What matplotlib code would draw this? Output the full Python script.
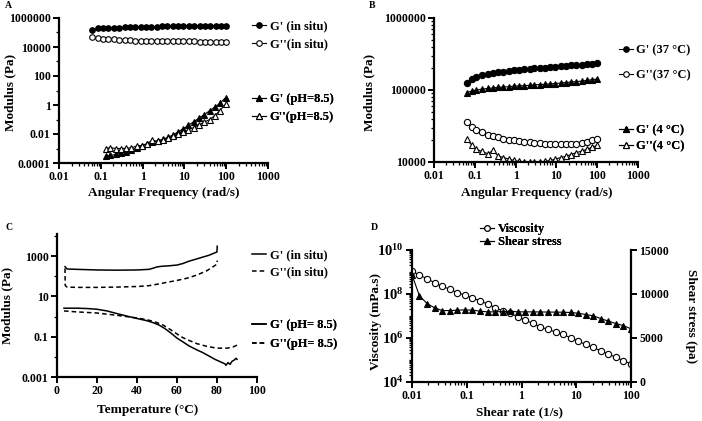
import numpy as np
import matplotlib.pyplot as plt
from matplotlib import ticker
from matplotlib.lines import Line2D

plt.rcParams['font.family'] = ['Liberation Serif', 'DejaVu Serif']
plt.rcParams['font.weight'] = 'bold'
plt.rcParams['axes.labelweight'] = 'bold'
plt.rcParams['mathtext.fontset'] = 'custom'
plt.rcParams['mathtext.rm'] = 'Liberation Serif:bold'
plt.rcParams['mathtext.bf'] = 'Liberation Serif:bold'
plt.rcParams['mathtext.it'] = 'Liberation Serif:bold:italic'

# ---- data ----
# A / B : frequency sweeps
freq = [0.063, 0.085, 0.11, 0.15, 0.21, 0.28, 0.37, 0.50, 0.67, 0.90, 1.2, 1.6, 2.2,
        2.9, 3.9, 5.3, 7.1, 9.5, 12.8, 17, 23, 31, 42, 56, 75, 100]
a_gp_situ = [1.6e5, 1.9e5, 2.0e5, 2.1e5, 2.15e5, 2.2e5, 2.25e5, 2.3e5, 2.35e5, 2.4e5,
             2.45e5, 2.5e5, 2.55e5, 2.6e5, 2.6e5, 2.65e5, 2.7e5, 2.75e5, 2.8e5, 2.8e5,
             2.85e5, 2.9e5, 2.9e5, 2.95e5, 3.0e5, 3.0e5]
a_gpp_situ = [5.0e4, 4.2e4, 3.8e4, 3.5e4, 3.3e4, 3.1e4, 3.0e4, 2.9e4, 2.8e4, 2.75e4,
              2.7e4, 2.65e4, 2.6e4, 2.55e4, 2.5e4, 2.5e4, 2.45e4, 2.4e4, 2.4e4, 2.4e4,
              2.35e4, 2.35e4, 2.3e4, 2.3e4, 2.3e4, 2.3e4]
freq_ph = [0.13, 0.17, 0.23, 0.31, 0.41, 0.54, 0.72, 0.96, 1.28, 1.7, 2.3, 3.0, 4.0,
           5.3, 7.1, 9.4, 12.5, 16.7, 22, 30, 40, 53, 70, 97]
a_gp_ph = [2.9e-4, 3.3e-4, 3.9e-4, 4.8e-4, 6.0e-4, 8.0e-4, 1.1e-3, 1.6e-3, 2.0e-3, 2.6e-3,
           3.3e-3, 4.3e-3, 5.8e-3, 8.5e-3, 0.014, 0.023, 0.040, 0.070, 0.12, 0.22,
           0.40, 0.70, 1.3, 3.2]
a_gpp_ph = [1.0e-3, 1.15e-3, 1.0e-3, 1.0e-3, 1.05e-3, 1.1e-3, 1.5e-3, 1.6e-3, 2.2e-3, 3.6e-3,
            3.2e-3, 4.0e-3, 5.0e-3, 7.0e-3, 9.5e-3, 0.013, 0.019, 0.028, 0.042, 0.065,
            0.10, 0.18, 0.40, 1.15]

b_gp_37 = [1.25e5, 1.42e5, 1.52e5, 1.6e5, 1.66e5, 1.72e5, 1.76e5, 1.8e5, 1.84e5, 1.87e5,
           1.9e5, 1.93e5, 1.96e5, 1.99e5, 2.02e5, 2.05e5, 2.08e5, 2.1e5, 2.13e5, 2.16e5,
           2.19e5, 2.22e5, 2.25e5, 2.28e5, 2.32e5, 2.36e5]
b_gpp_37 = [3.6e4, 3.03e4, 2.81e4, 2.61e4, 2.4e4, 2.27e4, 2.2e4, 2.11e4, 2.04e4, 2.0e4,
            1.96e4, 1.92e4, 1.87e4, 1.84e4, 1.82e4, 1.8e4, 1.78e4, 1.76e4, 1.76e4, 1.76e4,
            1.78e4, 1.8e4, 1.84e4, 1.92e4, 2.0e4, 2.08e4]
b_gp_4 = [9.2e4, 9.7e4, 1.0e5, 1.03e5, 1.05e5, 1.07e5, 1.09e5, 1.1e5, 1.11e5, 1.13e5,
          1.14e5, 1.15e5, 1.16e5, 1.18e5, 1.19e5, 1.2e5, 1.22e5, 1.23e5, 1.25e5, 1.27e5,
          1.29e5, 1.31e5, 1.33e5, 1.36e5, 1.39e5, 1.42e5]
b_gpp_4 = [2.1e4, 1.7e4, 1.5e4, 1.4e4, 1.3e4, 1.45e4, 1.22e4, 1.15e4, 1.1e4, 1.05e4,
           1.02e4, 1.0e4, 1.0e4, 1.0e4, 1.01e4, 1.02e4, 1.05e4, 1.1e4, 1.15e4, 1.2e4,
           1.27e4, 1.35e4, 1.42e4, 1.5e4, 1.6e4, 1.7e4]

# C : temperature sweeps
t_gp_situ = [4.0, 5, 10, 20, 30, 40, 46, 48, 50, 52, 56, 60, 63, 66, 70, 73, 76, 79.6, 80, 80.1]
c_gp_situ = [300, 230, 220, 205, 200, 205, 220, 250, 290, 310, 330, 360, 430, 560, 730,
             900, 1100, 1550, 1600, 3100]
t_gpp_situ = [4.0, 4.1, 5, 10, 20, 30, 40, 46, 50, 55, 60, 65, 70, 75, 79.5, 80, 80.1]
c_gpp_situ = [245, 35, 29, 28, 28, 29, 31, 34, 40, 50, 62, 80, 115, 190, 370, 400, 600]
t_gp_ph = [3.5, 10, 15, 20, 25, 30, 35, 40, 45, 48, 51, 54, 57, 60, 63, 66, 70, 73, 76,
           79, 82, 84, 84.5, 85.5, 86.5, 87.5, 88.5, 89.5, 90]
c_gp_ph = [2.6, 2.6, 2.5, 2.3, 1.9, 1.4, 1.05, 0.8, 0.62, 0.5, 0.38, 0.25, 0.15, 0.085,
           0.055, 0.035, 0.022, 0.016, 0.011, 0.0075, 0.0055, 0.0045, 0.0038, 0.0052,
           0.0042, 0.006, 0.0068, 0.0085, 0.0075]
t_gpp_ph = [3.5, 10, 20, 30, 40, 45, 50, 53, 56, 59, 62, 65, 70, 75, 80, 85, 88, 90]
c_gpp_ph = [1.9, 1.7, 1.5, 1.15, 0.85, 0.7, 0.5, 0.38, 0.25, 0.16, 0.1, 0.072, 0.045,
            0.033, 0.027, 0.027, 0.031, 0.038]

# D : flow curve
shear_rate = [0.01, 0.0137, 0.0189, 0.0259, 0.0357, 0.049, 0.0673, 0.0925, 0.127, 0.1745,
              0.24, 0.329, 0.452, 0.621, 0.853, 1.17, 1.61, 2.21, 3.04, 4.18, 5.74, 7.88,
              10.8, 14.9, 20.4, 28.1, 38.5, 53.0, 72.8, 100]
viscosity = [1.12e9, 7.1e8, 5.0e8, 3.2e8, 2.2e8, 1.66e8, 1.15e8, 8.9e7, 6.6e7, 4.9e7,
             3.5e7, 2.4e7, 1.7e7, 1.3e7, 9.3e6, 6.5e6, 4.6e6, 3.2e6, 2.45e6, 1.9e6,
             1.45e6, 1.02e6, 7.2e5, 5.1e5, 3.7e5, 2.6e5, 1.86e5, 1.32e5, 9.3e4, 6.6e4]
shear_stress = [12165, 9785, 8910, 8425, 8118, 8118, 8163, 8197, 8163, 8050, 7970, 7970,
                8005, 8050, 7970, 7970, 7970, 7960, 7950, 7940, 7930, 7900, 7820, 7665,
                7517, 7210, 6920, 6640, 6400, 6050]

W, H = 702, 421
fig = plt.figure(figsize=(W / 100, H / 100), dpi=100)


def box(l, t, r, b):
    return [l / W, 1 - b / H, (r - l) / W, (b - t) / H]


def plain(v, pos=None):
    if v >= 1:
        return str(int(round(v)))
    return np.format_float_positional(v, trim='-')


def style(ax, right=False):
    ax.spines['top'].set_visible(False)
    if not right:
        ax.spines['right'].set_visible(False)
    for s in ax.spines.values():
        s.set_linewidth(1.6)
    ax.tick_params(which='major', length=4, width=1.4, labelsize=8.5, pad=2)
    ax.tick_params(which='minor', length=2.2, width=0.9)
    ax.xaxis.set_minor_formatter(ticker.NullFormatter())
    ax.yaxis.set_minor_formatter(ticker.NullFormatter())


def bold_ticks(ax):
    for t in ax.get_xticklabels() + ax.get_yticklabels():
        t.set_fontweight('bold')


def lab(ax, xl, yl, xpos, ypos):
    ax.set_xlabel(xl, fontsize=9.5, va='center', ha='center')
    ax.set_ylabel(yl, fontsize=9.5, va='center', ha='center')
    ax.xaxis.set_label_coords(xpos[0] / W, 1 - xpos[1] / H, transform=fig.transFigure)
    ax.yaxis.set_label_coords(ypos[0] / W, 1 - ypos[1] / H, transform=fig.transFigure)


def leg(ax, handles, labels, x, y, sp, keep=True):
    lg = ax.legend(handles, labels, loc='upper left', bbox_to_anchor=(x / W, 1 - y / H),
                   bbox_transform=fig.transFigure, frameon=False, fontsize=9,
                   handlelength=1.1, handletextpad=0.3, labelspacing=sp,
                   borderpad=0, borderaxespad=0)
    if keep:
        ax.add_artist(lg)
    return lg


def h(marker, fill):
    return Line2D([], [], color='k', lw=0.8, marker=marker, markersize=4,
                  mfc='k' if fill else 'w', mec='k', mew=0.8)


def series(ax, x, y, marker, fill, ms=4):
    ax.plot(x, y, color='k', lw=0.8, marker=marker, markersize=ms,
            mfc='k' if fill else 'w', mec='k', mew=0.8)


freq_ticks = [0.01, 0.1, 1, 10, 100, 1000]

# ---- A ----
axA = fig.add_axes(box(59, 18, 268, 163))
series(axA, freq, a_gp_situ, 'o', True)
series(axA, freq, a_gpp_situ, 'o', False)
series(axA, freq_ph, a_gp_ph, '^', True)
series(axA, freq_ph, a_gpp_ph, '^', False)
axA.set_xscale('log')
axA.set_yscale('log')
axA.set_xlim(0.01, 1000)
axA.set_ylim(1e-4, 1e6)
axA.xaxis.set_major_locator(ticker.FixedLocator(freq_ticks))
axA.xaxis.set_minor_locator(ticker.LogLocator(subs=np.arange(2, 10), numticks=50))
axA.yaxis.set_major_locator(ticker.FixedLocator([1e-4, 1e-2, 1, 1e2, 1e4, 1e6]))
axA.yaxis.set_minor_locator(ticker.FixedLocator([1e-3, 1e-1, 10, 1e3, 1e5]))
axA.xaxis.set_major_formatter(ticker.FuncFormatter(plain))
axA.yaxis.set_major_formatter(ticker.FuncFormatter(plain))
style(axA)
lab(axA, 'Angular Frequency (rad/s)', 'Modulus (Pa)', (164, 193), (10, 92))
leg(axA, [h('o', True), h('o', False)], ["G' (in situ)", "G''(in situ)"], 252, 20, 0.5)
leg(axA, [h('^', True), h('^', False)], ["G' (pH=8.5)", "G''(pH=8.5)"], 252, 93, 0.5)

# ---- B ----
axB = fig.add_axes(box(434, 18, 638, 162))
series(axB, freq, b_gp_37, 'o', True, 4.5)
series(axB, freq, b_gpp_37, 'o', False, 4.5)
series(axB, freq, b_gp_4, '^', True)
series(axB, freq, b_gpp_4, '^', False)
axB.set_xscale('log')
axB.set_yscale('log')
axB.set_xlim(0.01, 1000)
axB.set_ylim(1e4, 1e6)
axB.xaxis.set_major_locator(ticker.FixedLocator(freq_ticks))
axB.xaxis.set_minor_locator(ticker.LogLocator(subs=np.arange(2, 10), numticks=50))
axB.yaxis.set_major_locator(ticker.FixedLocator([1e4, 1e5, 1e6]))
axB.yaxis.set_minor_locator(ticker.LogLocator(subs=np.arange(2, 10), numticks=50))
axB.xaxis.set_major_formatter(ticker.FuncFormatter(plain))
axB.yaxis.set_major_formatter(ticker.FuncFormatter(plain))
style(axB)
lab(axB, 'Angular Frequency (rad/s)', 'Modulus (Pa)', (537, 193), (369, 92))
leg(axB, [h('o', True), h('o', False)], ["G' (37 \u00b0C)", "G''(37 \u00b0C)"], 619, 44, 1.1)
leg(axB, [h('^', True), h('^', False)], ["G' (4 \u00b0C)", "G''(4 \u00b0C)"], 619, 124, 0.35)

# ---- C ----
axC = fig.add_axes(box(57, 234, 257, 377))
axC.plot(t_gp_situ, c_gp_situ, color='k', lw=1.1)
axC.plot(t_gpp_situ, c_gpp_situ, color='k', lw=1.1, dashes=(3, 2))
axC.plot(t_gp_ph, c_gp_ph, color='k', lw=1.1)
axC.plot(t_gpp_ph, c_gpp_ph, color='k', lw=1.1, dashes=(3, 2))
axC.set_yscale('log')
axC.set_xlim(0, 100)
axC.set_ylim(1e-3, 1.25e4)
axC.xaxis.set_major_locator(ticker.MultipleLocator(20))
axC.yaxis.set_major_locator(ticker.FixedLocator([1e-3, 1e-1, 10, 1e3]))
axC.yaxis.set_minor_locator(ticker.FixedLocator([1e-2, 1, 100, 1e4]))
axC.yaxis.set_major_formatter(ticker.FuncFormatter(plain))
style(axC)
lab(axC, 'Temperature (\u00b0C)', 'Modulus (Pa)', (148, 410), (7, 305))
solid = Line2D([], [], color='k', lw=1.1)
dash = Line2D([], [], color='k', lw=1.1, dashes=(3, 2))
leg(axC, [solid, dash], ["G' (in situ)", "G''(in situ)"], 252, 249, 0.45)
leg(axC, [solid, dash], ["G' (pH= 8.5)", "G''(pH= 8.5)"], 252, 319, 0.6)

# ---- D ----
axD = fig.add_axes(box(412, 250, 631, 382))
axD2 = axD.twinx()
series(axD, shear_rate, viscosity, 'o', False, 4.5)
series(axD2, shear_rate, shear_stress, '^', True, 3.8)
axD.set_xscale('log')
axD.set_yscale('log')
axD.set_xlim(0.01, 100)
axD.set_ylim(1e4, 1e10)
axD2.set_ylim(0, 15000)
axD.xaxis.set_major_locator(ticker.FixedLocator([0.01, 0.1, 1, 10, 100]))
axD.xaxis.set_minor_locator(ticker.LogLocator(subs=np.arange(2, 10), numticks=50))
axD.xaxis.set_major_formatter(ticker.FuncFormatter(plain))
axD.yaxis.set_major_locator(ticker.FixedLocator([1e4, 1e6, 1e8, 1e10]))
axD.yaxis.set_minor_locator(ticker.LogLocator(subs=np.arange(1, 10), numticks=50))
axD.yaxis.set_major_formatter(ticker.FuncFormatter(
    lambda v, p: r'$\mathbf{10^{%d}}$' % round(np.log10(v))))
axD2.yaxis.set_major_locator(ticker.FixedLocator([0, 5000, 10000, 15000]))
style(axD)
style(axD2, right=True)
axD.tick_params(axis='y', which='major', labelsize=10.5)
axD2.spines['left'].set_visible(False)
axD2.spines['bottom'].set_visible(False)
lab(axD, 'Shear rate (1/s)', 'Viscosity (mPa.s)', (520, 412), (376, 321))
axD2.set_ylabel('Shear stress (pa)', fontsize=9.5, rotation=270, va='center', ha='center')
axD2.yaxis.set_label_coords(691 / W, 1 - 316 / H, transform=fig.transFigure)
leg(axD, [h('o', False), h('^', True)], ['Viscosity', 'Shear stress'], 480, 223, 0.1)

for ax in [axA, axB, axC, axD, axD2]:
    bold_ticks(ax)

# ---- panel letters ----
for s, x, y in [('A', 5, 6), ('B', 369, 5), ('C', 5, 227), ('D', 371, 227)]:
    fig.text(x / W, 1 - y / H, s, fontsize=7, fontweight='bold', va='center', ha='left')

fig.savefig('out.png', dpi=100)
